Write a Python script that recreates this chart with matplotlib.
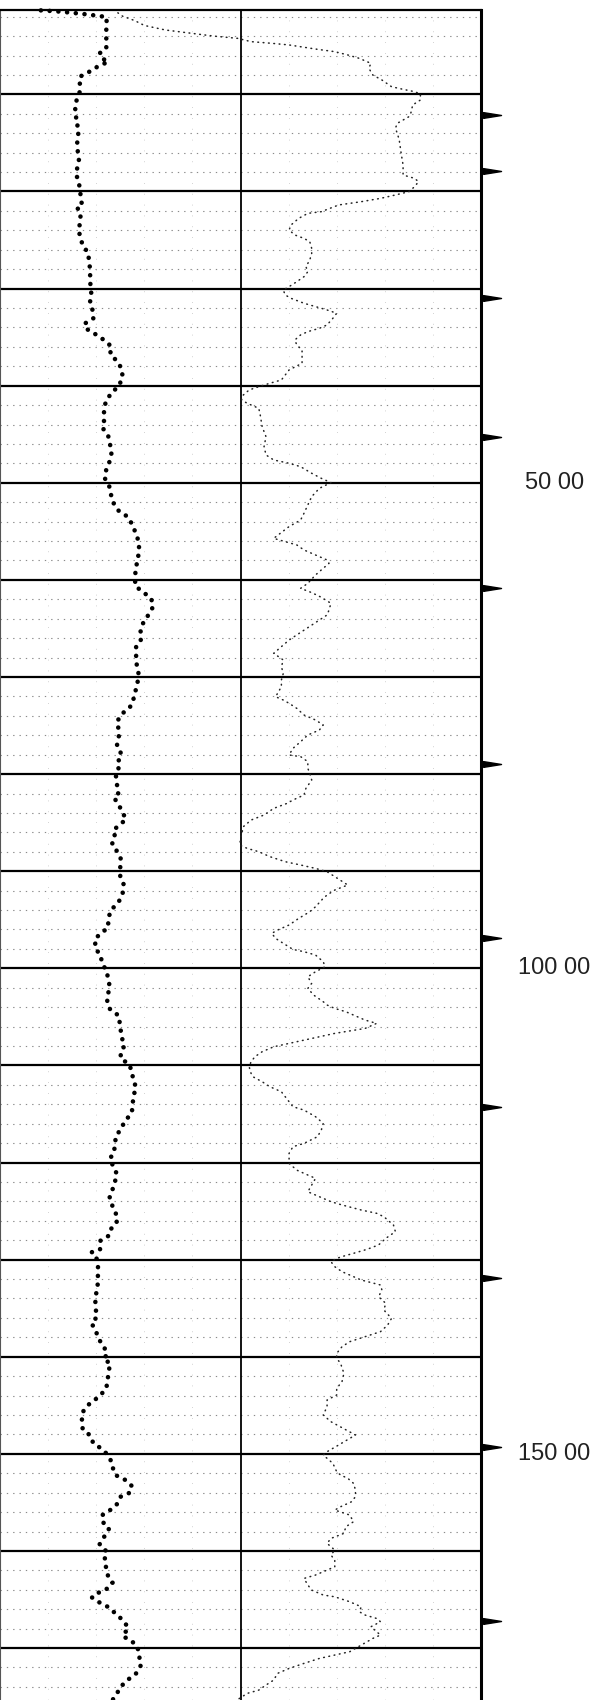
import matplotlib.pyplot as plt

# heavy dotted curve, left track (depth, reading in chart divisions 0-10)
heavy_depth = [
    1.35, 1.42, 1.50, 1.60, 1.70, 1.82, 1.95, 2.05,
    3.13, 4.40, 5.26, 5.77, 6.29, 6.63, 7.32, 7.66, 8.18, 8.86, 9.72,
    10.41, 11.44, 12.12, 12.71, 13.50, 15.21, 16.76, 18.20, 19.06, 20.53,
    21.29, 21.63, 22.25, 24.14, 24.83, 25.61, 26.27, 27.91, 29.70, 30.59,
    31.44, 32.13, 33.06, 33.64, 34.26, 34.77, 35.29, 35.98, 36.73, 37.62,
    38.31, 39.13, 40.03, 40.78, 41.64, 42.50, 43.46, 44.32, 45.18, 46.10,
    46.89, 47.79, 48.61, 49.54, 50.33, 51.08, 52.01, 52.90, 53.48, 54.38,
    55.20, 56.13, 56.99, 58.05, 58.80, 59.73, 60.62, 61.28, 61.89,
    62.69, 63.51, 64.27, 65.16, 66.09, 66.81, 68.49, 69.38, 70.31, 71.17,
    72.03, 72.95, 73.74, 74.60, 75.46, 76.25, 77.07, 77.69, 78.10, 78.89,
    79.51, 80.16, 81.05, 81.91, 82.43, 83.08, 83.97, 84.66, 85.76, 86.44,
    87.20, 87.75, 88.71, 89.60, 90.49, 91.35, 92.28,
    93.14, 94.00, 94.86, 95.78, 96.33, 96.92, 97.95, 98.63, 99.42, 100.35,
    101.14, 102.07, 102.75, 103.61, 104.23, 104.88, 105.67, 107.11, 107.97, 108.59,
    109.34, 109.79, 110.55, 111.51, 112.26, 113.22, 114.01, 114.87, 115.80, 116.59,
    117.27, 118.10, 118.96, 119.64, 120.43, 121.19, 121.98, 122.77, 123.59,
    124.27, 125.16, 125.75, 126.33, 127.02, 127.57, 128.08, 128.94, 129.25, 129.97,
    130.90, 132.61, 134.09, 135.12, 135.88, 136.56, 137.25, 138.11, 138.86, 139.72,
    140.27, 140.68, 141.61, 142.57, 143.36, 144.18, 144.84, 145.69, 146.62, 147.48,
    148.13, 148.92, 149.43, 149.95, 150.81, 151.50, 152.18, 152.70, 153.31, 154.00, 154.41,
    155.10, 155.79, 156.30, 156.99, 157.68, 158.43, 159.33, 160.08, 160.94, 161.80,
    162.66, 163.27, 163.79, 164.20, 164.78, 165.23, 165.75, 166.43, 167.12, 167.91,
    168.77, 169.25, 169.86, 170.83, 171.68, 172.61, 173.30, 173.98, 174.95, 175.60,
]
heavy_value = [
    0.85, 1.10, 1.30, 1.50, 1.70, 1.90, 2.10, 2.22,
    2.21, 2.21, 2.21, 2.07, 2.12, 2.25, 1.96, 1.86, 1.66, 1.66, 1.66,
    1.60, 1.56, 1.60, 1.56, 1.64, 1.60, 1.64, 1.58, 1.64, 1.68,
    1.70, 1.60, 1.68, 1.64, 1.68, 1.72, 1.83, 1.87, 1.88, 1.90,
    1.87, 1.92, 1.94, 1.75, 1.83, 2.01, 2.16, 2.32, 2.29, 2.46,
    2.53, 2.55, 2.47, 2.31, 2.20, 2.16, 2.17, 2.13, 2.25, 2.29,
    2.32, 2.28, 2.21, 2.18, 2.27, 2.30, 2.35, 2.47, 2.65, 2.76,
    2.82, 2.89, 2.89, 2.86, 2.82, 2.81, 2.81, 2.98, 3.14,
    3.19, 3.10, 2.99, 2.92, 2.94, 2.83, 2.83, 2.88, 2.87, 2.83,
    2.79, 2.73, 2.55, 2.43, 2.47, 2.47, 2.43, 2.50, 2.53, 2.43,
    2.47, 2.41, 2.43, 2.47, 2.37, 2.46, 2.55, 2.62, 2.36, 2.39,
    2.33, 2.41, 2.51, 2.50, 2.50, 2.57, 2.55,
    2.47, 2.31, 2.25, 2.25, 2.12, 1.98, 1.98, 2.09, 2.12, 2.22,
    2.25, 2.29, 2.23, 2.23, 2.29, 2.47, 2.49, 2.53, 2.59, 2.51,
    2.51, 2.67, 2.74, 2.77, 2.83, 2.77, 2.76, 2.74, 2.59, 2.51,
    2.41, 2.39, 2.37, 2.28, 2.36, 2.43, 2.39, 2.34, 2.28,
    2.32, 2.40, 2.45, 2.41, 2.27, 2.25, 2.08, 2.08, 1.90, 2.02,
    2.04, 2.03, 1.98, 1.99, 2.02, 1.90, 1.99, 2.04, 2.15, 2.23,
    2.15, 2.30, 2.25, 2.24, 2.20, 2.04, 1.86, 1.72, 1.70, 1.72,
    1.88, 1.94, 2.10, 2.21, 2.32, 2.35, 2.40, 2.61, 2.74, 2.70, 2.51,
    2.45, 2.29, 2.13, 2.13, 2.27, 2.18, 2.07, 2.22, 2.17, 2.21,
    2.25, 2.34, 2.27, 2.08, 1.91, 2.04, 2.24, 2.40, 2.55, 2.67,
    2.55, 2.73, 2.86, 2.89, 2.94, 2.83, 2.65, 2.51, 2.40, 2.30,
]

# fine dotted curve, right track
fine_depth = [
    1.60, 1.95, 2.40, 2.90, 3.37, 3.71, 3.99, 4.23, 4.57, 4.74, 4.91, 5.15, 5.36,
    5.60, 5.94, 6.29, 6.80, 7.32, 8.00, 8.52, 9.21, 9.48, 9.72, 9.96, 10.58, 11.09,
    11.95, 12.30, 12.98, 13.50, 14.01, 14.70, 16.07, 17.27, 18.30, 18.65, 18.99,
    19.50, 20.02, 20.36, 20.71, 21.05, 21.39, 22.08, 22.25, 22.77, 23.45, 23.97,
    24.48, 24.83, 25.17, 25.86, 26.37, 27.06, 27.74, 28.26, 28.77, 29.29, 29.80,
    30.15, 30.66, 31.00,
    31.51, 31.86, 32.20, 32.54, 33.06, 33.74, 34.09, 34.43, 34.77, 35.29, 35.80,
    36.32, 37.18, 37.69, 38.38, 39.41, 39.75, 40.10, 40.44, 40.95, 41.47, 41.81,
    42.33, 43.01, 44.22, 45.25, 46.28, 47.13, 47.65, 47.99, 48.34, 49.02, 49.54,
    49.98, 50.57, 51.42, 52.28, 53.14, 53.83, 54.51, 55.72, 56.06, 56.40, 56.92,
    57.43, 57.95, 58.29, 58.81, 59.49, 60.35, 60.87, 61.31, 61.79,
    62.41, 63.10, 63.61, 64.13, 64.64, 65.16, 65.67, 66.19, 66.88, 67.56, 68.25,
    68.94, 69.62, 70.31, 71.00, 72.03, 72.37, 72.71, 73.23, 73.91, 74.43, 74.94,
    75.46, 75.97, 76.66, 77.35, 78.03, 78.20, 78.72, 79.41, 79.92, 80.61, 81.47,
    82.15, 82.67, 83.01, 83.53, 84.21, 84.73, 85.41, 86.27, 87.30, 87.65, 87.99,
    88.50, 89.02, 89.36, 89.71, 90.05, 90.56, 91.42, 91.94, 92.45, 92.79,
    93.66, 94.17, 94.86, 95.54, 96.06, 96.40, 96.92, 97.43, 98.05, 98.29, 98.63,
    99.32, 99.84, 100.35, 100.87, 101.55, 102.07, 102.75, 103.44, 103.78, 104.13,
    104.47, 104.81, 105.33, 105.67, 106.19, 106.70, 107.39, 107.73, 108.08, 108.59,
    109.10, 109.62, 110.14, 110.82, 111.17, 111.68, 112.19, 112.71, 113.22, 113.74,
    114.25, 114.60, 115.28, 115.97, 116.66, 117.34, 118.03, 118.37, 119.06, 120.09,
    120.78, 121.29, 121.63, 122.32, 123.01, 123.52,
    124.03, 124.37, 124.89, 125.23, 125.58, 125.92, 126.43, 127.12, 127.81, 128.49,
    128.94, 129.35, 129.63, 129.87, 130.21, 130.73, 131.24, 132.10, 132.61, 133.13,
    133.82, 134.50, 135.19, 136.05, 136.73, 137.42, 137.94, 138.45, 138.97, 139.65,
    140.17, 140.68, 141.71, 142.57, 143.26, 143.94, 144.46, 145.14, 146.00, 146.69,
    148.06, 149.09, 149.78, 150.12, 150.47, 150.98, 151.84, 152.18, 152.52, 153.04,
    153.73, 154.41,
    154.93, 155.45, 155.79, 156.30, 156.99, 157.51, 158.19, 158.71, 159.22, 159.91,
    160.42, 160.94, 161.63, 161.97, 162.48, 162.83, 163.51, 164.03, 164.54, 164.72,
    165.23, 165.75, 166.26, 166.60, 166.95, 167.29, 167.81, 168.66, 169.01, 169.69,
    170.38, 170.72, 171.07, 171.58, 172.10, 172.61, 173.30, 173.81, 174.33, 174.67,
    175.60,
]
fine_value = [
    2.45, 2.55, 2.80, 3.00, 3.44, 3.99, 4.43, 4.94, 5.22, 5.65, 6.01, 6.32, 6.60,
    6.96, 7.23, 7.47, 7.71, 7.67, 7.75, 7.94, 8.14, 8.38, 8.62, 8.74, 8.74, 8.58,
    8.54, 8.50, 8.26, 8.22, 8.26, 8.30, 8.34, 8.38, 8.38, 8.62, 8.70,
    8.62, 8.50, 8.22, 7.91, 7.51, 7.04, 6.68, 6.40, 6.21, 6.05, 6.01,
    6.13, 6.32, 6.44, 6.48, 6.48, 6.44, 6.36, 6.40, 6.32, 6.17, 6.01,
    5.89, 5.93, 6.05,
    6.32, 6.56, 6.80, 7.00, 6.92, 6.80, 6.64, 6.40, 6.25, 6.13, 6.17,
    6.28, 6.28, 6.28, 6.01, 5.85, 5.61, 5.38, 5.18, 5.06, 5.02, 5.14,
    5.38, 5.41, 5.45, 5.53, 5.49, 5.53, 5.69, 6.01, 6.25, 6.48, 6.68,
    6.88, 6.64, 6.48, 6.40, 6.32, 6.25, 6.01, 5.69, 5.93, 6.17, 6.32,
    6.56, 6.80, 6.84, 6.72, 6.56, 6.40, 6.25, 6.48, 6.68,
    6.88, 6.84, 6.80, 6.64, 6.48, 6.32, 6.17, 6.01, 5.85, 5.69, 5.89,
    5.85, 5.89, 5.85, 5.85, 5.73, 5.89, 6.01, 6.17, 6.32, 6.56, 6.72,
    6.64, 6.40, 6.25, 6.09, 6.01, 6.25, 6.40, 6.40, 6.44, 6.48, 6.36,
    6.32, 6.09, 5.97, 5.69, 5.49, 5.22, 5.06, 5.02, 4.98, 5.14, 5.38,
    5.61, 5.93, 6.25, 6.56, 6.80, 6.96, 7.23, 6.96, 6.80, 6.72,
    6.56, 6.44, 6.21, 6.01, 5.77, 5.65, 5.73, 5.89, 6.09, 6.32, 6.56,
    6.72, 6.76, 6.56, 6.40, 6.48, 6.40, 6.52, 6.72, 6.80, 6.96,
    7.19, 7.35, 7.59, 7.83, 7.59, 6.96, 6.32, 6.01, 5.69, 5.45,
    5.30, 5.22, 5.18, 5.22, 5.26, 5.45, 5.61, 5.85, 5.93, 6.01,
    6.09, 6.32, 6.56, 6.72, 6.68, 6.60, 6.32, 6.09, 6.01, 6.01,
    6.17, 6.40, 6.56, 6.48, 6.40, 6.64,
    6.88, 7.11, 7.51, 7.83, 7.98, 8.06, 8.18, 8.22, 8.02, 7.87,
    7.63, 7.35, 7.15, 7.00, 6.88, 6.96, 7.11, 7.51, 7.91, 7.94,
    7.87, 8.02, 7.98, 8.14, 8.06, 7.91, 7.59, 7.27, 7.11, 7.00,
    7.00, 7.08, 7.15, 7.11, 7.00, 7.00, 6.80, 6.80, 6.72, 6.88,
    7.39, 7.04, 6.80, 6.72, 6.80, 6.92, 7.00, 7.08, 7.23, 7.35,
    7.39, 7.39,
    7.31, 7.08, 6.96, 7.27, 7.35, 7.19, 7.15, 6.88, 6.80, 6.96,
    6.88, 6.96, 6.96, 6.80, 6.56, 6.32, 6.40, 6.48, 6.72, 6.96,
    7.27, 7.51, 7.47, 7.59, 7.83, 7.91, 7.71, 7.91, 7.75, 7.51,
    7.27, 6.96, 6.64, 6.32, 6.01, 5.77, 5.69, 5.53, 5.38, 5.14,
    4.85,
]

# flags on the right edge of the log
marker_depths = [12.1, 17.9, 31.0, 45.3, 60.8, 79.0, 96.9, 114.3, 131.9, 149.3, 167.2]

# depth annotations
label_depths = [50, 100, 150]
label_texts = ['50 00', '100 00', '150 00']

TOP_DEPTH, BOTTOM_DEPTH = 1.31, 175.35

fig = plt.figure(figsize=(6, 17), dpi=100)
ax = fig.add_axes([0, 0, 481 / 600, 1690 / 1700])
ax.set_xlim(0, 10)
ax.set_ylim(BOTTOM_DEPTH, TOP_DEPTH)
ax.set_xticks([])
ax.set_yticks([])

# grid: faint verticals, dotted minor rows every 2, solid major rows every 10
for gx in range(1, 10):
    if gx != 5:
        ax.axvline(gx, color='#c4c4c4', lw=0.6, ls=(0, (1, 12)), zorder=1)
for d in range(2, 176, 2):
    if d % 10:
        ax.axhline(d, color='#8a8a8a', lw=0.8, ls=(0, (1.2, 4.5)), zorder=1)
for d in range(10, 176, 10):
    ax.axhline(d, color='black', lw=1.6, zorder=2)
ax.axvline(5, color='black', lw=1.3, zorder=2)

ax.spines['bottom'].set_visible(False)
ax.spines['top'].set_linewidth(1.6)
ax.spines['right'].set_linewidth(2.2)
ax.spines['left'].set_linewidth(0.8)
ax.spines['left'].set_color('#555555')

# the two log curves
ax.plot(heavy_value, heavy_depth, color='black', lw=3.3, ls=(0, (0.01, 1.9)),
        dash_capstyle='round', zorder=4, clip_on=False)
ax.plot(fine_value, fine_depth, color='#222222', lw=1.1, ls=(0, (0.5, 3.0)),
        dash_capstyle='round', zorder=3, clip_on=False)

# right-pointing flags just outside the track
flag = [(-1, -0.32), (1, 0), (-1, 0.32), (-1, -0.32)]
ax.plot([1.022] * len(marker_depths), marker_depths, transform=ax.get_yaxis_transform(),
        ls='none', marker=flag, ms=13, color='black', clip_on=False)

for d, t in zip(label_depths, label_texts):
    ax.text(1.152, d, t, transform=ax.get_yaxis_transform(), ha='center', va='center',
            fontsize=17, family='Liberation Sans', color='#222222')

fig.savefig('out.png', dpi=100)
